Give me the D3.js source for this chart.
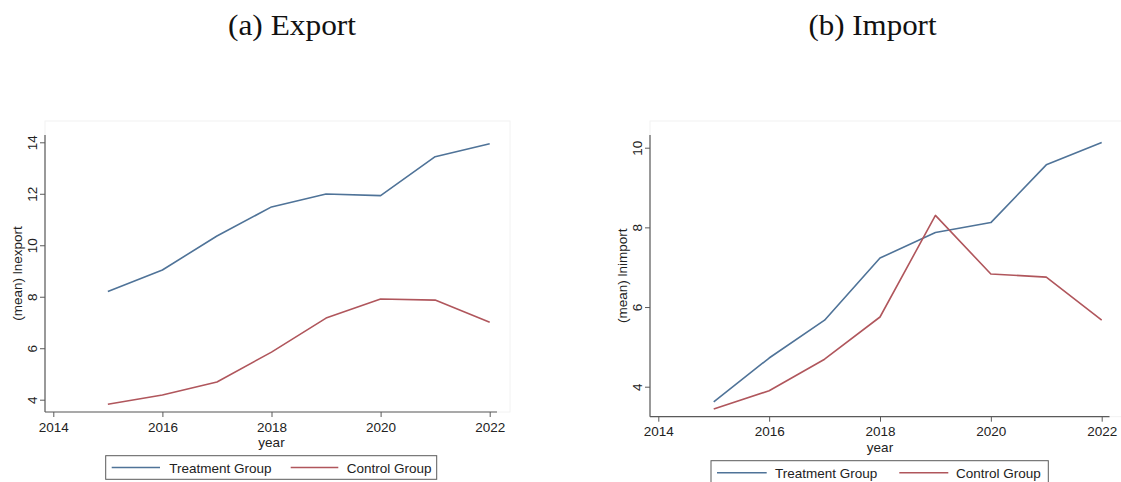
<!DOCTYPE html>
<html>
<head>
<meta charset="utf-8">
<script src="https://cdn.jsdelivr.net/npm/d3@7"></script>
<style>
  html, body { margin: 0; padding: 0; background: #fff; }
  svg { display: block; }
  .tick text { font-family: "Liberation Sans", Arial, sans-serif; font-size: 13.5px; fill: #222; }
</style>
</head>
<body>
<svg id="chart" width="1121" height="482"></svg>
<script>
// Yearly means of log exports / imports for the two groups
const years = [2015, 2016, 2017, 2018, 2019, 2020, 2021, 2022];
const exportTreatment = [8.20, 9.04, 10.36, 11.49, 11.99, 11.93, 13.44, 13.94];
const exportControl   = [3.82, 4.18, 4.69, 5.85, 7.17, 7.91, 7.87, 7.01];
const importTreatment = [3.62, 4.72, 5.67, 7.23, 7.87, 8.12, 9.57, 10.13];
const importControl   = [3.44, 3.90, 4.69, 5.75, 8.30, 6.83, 6.75, 5.67];

const xTickValues = [2014, 2016, 2018, 2020, 2022];
const exportYTicks = [4, 6, 8, 10, 12, 14];
const importYTicks = [4, 6, 8, 10];
const seriesNames = ["Treatment Group", "Control Group"];
const panelTitles = ["(a) Export", "(b) Import"];
const yTitles = ["(mean) lnexport", "(mean) lnimport"];

const colors = ["#4f7398", "#b0565c"];
const axisColor = "#5a5a5a";
const sans = "'Liberation Sans', Arial, sans-serif";

const svg = d3.select("#chart");

function drawPanel(cfg) {
  const g = svg.append("g");
  const x = d3.scaleLinear().domain([2014, 2022]).range([cfg.x0, cfg.x1]);
  const y = d3.scaleLinear().domain(cfg.yDomain).range(cfg.yRange);

  // faint plot-region outline
  g.append("rect")
    .attr("x", cfg.axisLeft).attr("y", cfg.regionTop)
    .attr("width", cfg.regionRight - cfg.axisLeft)
    .attr("height", cfg.axisBottom - cfg.regionTop)
    .attr("fill", "none").attr("stroke", "#f2f2f2").attr("stroke-width", 1);

  // panel title
  g.append("text")
    .attr("x", cfg.titleX).attr("y", 35)
    .attr("text-anchor", "middle")
    .attr("font-family", "'Liberation Serif', 'Times New Roman', serif")
    .attr("font-size", 30)
    .attr("textLength", 128).attr("lengthAdjust", "spacingAndGlyphs")
    .attr("fill", "#111")
    .text(cfg.title);

  // x axis
  const xAxis = d3.axisBottom(x).tickValues(xTickValues).tickSize(5).tickPadding(5)
    .tickFormat(d3.format("d"));
  const gx = g.append("g")
    .attr("transform", `translate(0,${cfg.axisBottom})`)
    .call(xAxis);
  gx.select(".domain").remove();
  gx.selectAll(".tick line").attr("stroke", axisColor);

  // y axis with rotated labels
  const yAxis = d3.axisLeft(y).tickValues(cfg.yTicks).tickSize(5).tickFormat(d3.format("d"));
  const gy = g.append("g")
    .attr("transform", `translate(${cfg.axisLeft},0)`)
    .call(yAxis);
  gy.select(".domain").remove();
  gy.selectAll(".tick line").attr("stroke", axisColor);
  gy.selectAll(".tick text")
    .attr("x", 0).attr("y", -8).attr("dy", null)
    .attr("text-anchor", "middle")
    .attr("transform", "rotate(-90)");

  // axis lines
  g.append("line")
    .attr("x1", cfg.axisLeft).attr("x2", cfg.axisLeft)
    .attr("y1", cfg.regionTop + 14).attr("y2", cfg.axisBottom)
    .attr("stroke", axisColor).attr("stroke-width", 1.2);
  g.append("line")
    .attr("x1", cfg.axisLeft).attr("x2", cfg.axisRight)
    .attr("y1", cfg.axisBottom).attr("y2", cfg.axisBottom)
    .attr("stroke", axisColor).attr("stroke-width", 1.2);

  // axis titles
  g.append("text")
    .attr("transform", `translate(${cfg.yTitleX},${(cfg.regionTop + 14 + cfg.axisBottom) / 2}) rotate(-90)`)
    .attr("text-anchor", "middle")
    .attr("font-family", sans).attr("font-size", 13.5).attr("fill", "#222")
    .text(cfg.yTitle);
  g.append("text")
    .attr("x", x(2018)).attr("y", cfg.xTitleY)
    .attr("text-anchor", "middle")
    .attr("font-family", sans).attr("font-size", 13.5).attr("fill", "#222")
    .text("year");

  // series lines
  const line = d3.line().x((d, i) => x(years[i])).y(d => y(d));
  cfg.series.forEach((vals, k) => {
    g.append("path")
      .datum(vals)
      .attr("d", line)
      .attr("fill", "none")
      .attr("stroke", colors[k])
      .attr("stroke-width", 1.6)
      .attr("stroke-linejoin", "round");
  });

  // legend
  const lg = g.append("g");
  lg.append("rect")
    .attr("x", cfg.legend.x).attr("y", cfg.legend.y)
    .attr("width", cfg.legend.w).attr("height", cfg.legend.h)
    .attr("fill", "#fff").attr("stroke", axisColor).attr("stroke-width", 1);
  cfg.legend.items.forEach((it, k) => {
    lg.append("line")
      .attr("x1", it.lx0).attr("x2", it.lx1)
      .attr("y1", cfg.legend.lineY).attr("y2", cfg.legend.lineY)
      .attr("stroke", colors[k]).attr("stroke-width", 1.6);
    lg.append("text")
      .attr("x", it.tx).attr("y", cfg.legend.textY)
      .attr("font-family", sans).attr("font-size", 13.5).attr("fill", "#222")
      .text(seriesNames[k]);
  });
}

drawPanel({
  title: panelTitles[0], titleX: 292,
  x0: 53.3, x1: 489.7,
  yDomain: [4, 14], yRange: [399.7, 142.3], yTicks: exportYTicks,
  axisLeft: 45, axisRight: 497, axisBottom: 412,
  regionTop: 121, regionRight: 510,
  yTitle: yTitles[0], yTitleX: 22, xTitleY: 447,
  series: [exportTreatment, exportControl],
  legend: {
    x: 105.7, y: 455.7, w: 331, h: 23.6, lineY: 467.5, textY: 472.5,
    items: [{ lx0: 111.7, lx1: 160, tx: 169.3 }, { lx0: 290.7, lx1: 338.3, tx: 346.7 }]
  }
});

drawPanel({
  title: panelTitles[1], titleX: 872.5,
  x0: 658.3, x1: 1101.7,
  yDomain: [4, 10], yRange: [386.7, 147.7], yTicks: importYTicks,
  axisLeft: 650, axisRight: 1109.5, axisBottom: 416.7,
  regionTop: 121, regionRight: 1125,
  yTitle: yTitles[1], yTitleX: 627, xTitleY: 452,
  series: [importTreatment, importControl],
  legend: {
    x: 711, y: 460.7, w: 337.3, h: 30, lineY: 472.7, textY: 478,
    items: [{ lx0: 717, lx1: 766.7, tx: 775 }, { lx0: 899.3, lx1: 948.3, tx: 956 }]
  }
});
</script>
</body>
</html>
